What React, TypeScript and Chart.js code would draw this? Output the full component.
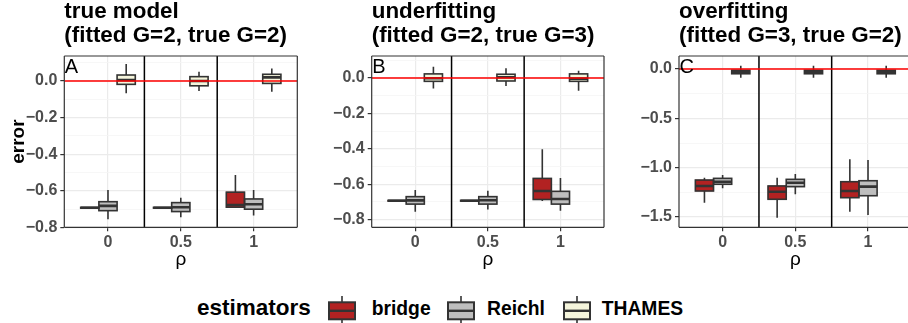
import React, { useEffect, useRef } from 'react';
import { Chart, registerables } from 'chart.js';

Chart.register(...registerables);

const FONT = '"Liberation Sans", Arial, Helvetica, sans-serif';

// ---------- data ----------
const rhoLabels = ['0', '0.5', '1'];
const rhoPositions = [1, 2, 3];
const estimators = ['bridge', 'Reichl', 'THAMES'];
const estimatorFills = ['#B22222', '#BEBEBE', '#F5F5DC'];
const dodgeOffsets = [-0.25, 0, 0.25];
const boxWidthUnits = 0.25;
const separatorPositions = [1.5, 2.5];

// five-number summaries per rho (0, 0.5, 1): [lower whisker, Q1, median, Q3, upper whisker]
const trueBridge = [
  [-0.697, -0.695, -0.693, -0.691, -0.689],
  [-0.697, -0.695, -0.693, -0.691, -0.689],
  [-0.695, -0.69, -0.678, -0.608, -0.514],
];
const trueReichl = [
  [-0.756, -0.709, -0.683, -0.66, -0.596],
  [-0.745, -0.714, -0.69, -0.665, -0.638],
  [-0.736, -0.701, -0.674, -0.645, -0.596],
];
const trueThames = [
  [-0.067, -0.018, 0.005, 0.033, 0.093],
  [-0.055, -0.026, 0.0, 0.024, 0.051],
  [-0.058, -0.013, 0.02, 0.037, 0.069],
];

const underBridge = [
  [-0.697, -0.695, -0.693, -0.691, -0.689],
  [-0.697, -0.695, -0.693, -0.691, -0.689],
  [-0.695, -0.686, -0.638, -0.567, -0.403],
];
const underReichl = [
  [-0.755, -0.712, -0.691, -0.67, -0.632],
  [-0.742, -0.712, -0.69, -0.67, -0.636],
  [-0.749, -0.712, -0.683, -0.64, -0.564],
];
const underThames = [
  [-0.06, -0.019, -0.002, 0.023, 0.064],
  [-0.045, -0.017, 0.004, 0.021, 0.055],
  [-0.072, -0.019, -0.004, 0.023, 0.041],
];

const overBridge = [
  [-1.354, -1.236, -1.185, -1.125, -1.101],
  [-1.506, -1.32, -1.243, -1.185, -1.101],
  [-1.446, -1.304, -1.236, -1.142, -0.915],
];
const overReichl = [
  [-1.209, -1.168, -1.142, -1.108, -1.074],
  [-1.27, -1.192, -1.152, -1.118, -1.064],
  [-1.479, -1.284, -1.192, -1.132, -0.922],
];
const overThames = [
  [-0.088, -0.048, -0.03, -0.012, 0.033],
  [-0.088, -0.048, -0.03, -0.012, 0.033],
  [-0.088, -0.048, -0.03, -0.012, 0.033],
];

const titleTrue = ['true model', '(fitted G=2, true G=2)'];
const titleUnder = ['underfitting', '(fitted G=2, true G=3)'];
const titleOver = ['overfitting', '(fitted G=3, true G=2)'];

const yMajorSmall = [0, -0.2, -0.4, -0.6, -0.8];
const yMinorSmall = [0.1, -0.1, -0.3, -0.5, -0.7];
const yMajorLarge = [0, -0.5, -1.0, -1.5];
const yMinorLarge = [-0.25, -0.75, -1.25];

const yLimitsTrue = [-0.8, 0.137];
const yLimitsUnder = [-0.843, 0.124];
const yLimitsOver = [-1.604, 0.132];
const xLimitsFull = [0.4, 3.6];
const xLimitsCropped = [0.4, 3.55];

// ---------- layout ----------
const CANVAS_H = 282;
const PLOT_TOP = 56;
const PLOT_BOTTOM = 227.3;
const OUTLINE = '#333333';
const TICK_COLOR = '#4D4D4D';

type Panel = {
  title: string[];
  letter: string;
  stats: number[][][];
  yLimits: number[];
  yMajor: number[];
  yMinor: number[];
  xLimits: number[];
  yTitle: string;
  left: number;
  width: number;
  plotLeft: number;
  plotRight: number;
  rightBorder: boolean;
};

const PANELS: Panel[] = [
  {
    title: titleTrue, letter: 'A', stats: [trueBridge, trueReichl, trueThames],
    yLimits: yLimitsTrue, yMajor: yMajorSmall, yMinor: yMinorSmall, xLimits: xLimitsFull,
    yTitle: 'error', left: 0, width: 300, plotLeft: 64.3, plotRight: 297.3, rightBorder: true,
  },
  {
    title: titleUnder, letter: 'B', stats: [underBridge, underReichl, underThames],
    yLimits: yLimitsUnder, yMajor: yMajorSmall, yMinor: yMinorSmall, xLimits: xLimitsFull,
    yTitle: '', left: 300, width: 306, plotLeft: 371.7, plotRight: 604, rightBorder: true,
  },
  {
    title: titleOver, letter: 'C', stats: [overBridge, overReichl, overThames],
    yLimits: yLimitsOver, yMajor: yMajorLarge, yMinor: yMinorLarge, xLimits: xLimitsCropped,
    yTitle: '', left: 606, width: 302, plotLeft: 679, plotRight: 908, rightBorder: false,
  },
];

const near = (a: number, b: number) => Math.abs(a - b) < 1e-9;
const fmtTick = (v: number, decimals: number) => {
  const s = Math.abs(v).toFixed(decimals);
  return v < -1e-9 ? '\u2212' + s : s;
};

function line(ctx: CanvasRenderingContext2D, x1: number, y1: number, x2: number, y2: number) {
  ctx.beginPath();
  ctx.moveTo(x1, y1);
  ctx.lineTo(x2, y2);
  ctx.stroke();
}

function makePlugin(p: Panel) {
  return {
    id: 'panelDeco' + p.letter,
    afterDatasetsDraw(chart: any) {
      const { ctx, chartArea: ca, scales } = chart;
      const xs = scales.x;
      const ys = scales.y;
      ctx.save();
      ctx.beginPath();
      ctx.rect(ca.left, ca.top, ca.right - ca.left, ca.bottom - ca.top);
      ctx.clip();
      chart.data.datasets.forEach((_ds: any, k: number) => {
        const meta = chart.getDatasetMeta(k);
        const stats = p.stats[k];
        meta.data.forEach((bar: any, j: number) => {
          const { x: cx, width } = bar.getProps(['x', 'width'], true);
          const s = stats[j];
          const yLo = ys.getPixelForValue(s[0]);
          const yQ1 = ys.getPixelForValue(s[1]);
          const yMed = ys.getPixelForValue(s[2]);
          const yQ3 = ys.getPixelForValue(s[3]);
          const yHi = ys.getPixelForValue(s[4]);
          ctx.strokeStyle = OUTLINE;
          ctx.lineWidth = 1.6;
          ctx.lineCap = 'butt';
          line(ctx, cx, yQ3, cx, yHi);
          line(ctx, cx, yQ1, cx, yLo);
          ctx.strokeRect(cx - width / 2, yQ3, width, yQ1 - yQ3);
          ctx.lineWidth = 2.6;
          line(ctx, cx - width / 2, yMed, cx + width / 2, yMed);
        });
      });
      // separators
      ctx.strokeStyle = '#000000';
      ctx.lineWidth = 1.5;
      separatorPositions.forEach((v) => {
        const px = xs.getPixelForValue(v);
        line(ctx, px, ca.top, px, ca.bottom);
      });
      // red reference line at 0
      ctx.strokeStyle = '#FF0000';
      ctx.lineWidth = 1.6;
      const y0 = ys.getPixelForValue(0);
      line(ctx, ca.left, y0, ca.right, y0);
      ctx.restore();

      // panel border
      ctx.save();
      ctx.strokeStyle = OUTLINE;
      ctx.lineWidth = 1.2;
      line(ctx, ca.left, ca.top, ca.right, ca.top);
      line(ctx, ca.left, ca.bottom, ca.right, ca.bottom);
      line(ctx, ca.left, ca.top, ca.left, ca.bottom);
      if (p.rightBorder) line(ctx, ca.right, ca.top, ca.right, ca.bottom);
      ctx.restore();
    },
    afterDraw(chart: any) {
      const { ctx, chartArea: ca, scales } = chart;
      ctx.save();
      ctx.fillStyle = '#000000';
      ctx.textAlign = 'left';
      ctx.textBaseline = 'alphabetic';
      // letter
      ctx.font = `20px ${FONT}`;
      ctx.fillText(p.letter, ca.left + 0.5, ca.top + 16.5);
      // titles
      ctx.font = `bold 22.4px ${FONT}`;
      ctx.fillText(p.title[0], ca.left, 17.5);
      ctx.fillText(p.title[1], ca.left, 41.5);
      // x axis title
      ctx.font = `19px ${FONT}`;
      ctx.textAlign = 'center';
      ctx.fillText('\u03C1', scales.x.getPixelForValue(2), 265);
      // y axis title
      if (p.yTitle) {
        ctx.font = `bold 19px ${FONT}`;
        ctx.translate(23.5, (ca.top + ca.bottom) / 2);
        ctx.rotate(-Math.PI / 2);
        ctx.fillText(p.yTitle, 0, 0);
      }
      ctx.restore();
    },
  };
}

function PanelChart({ p }: { p: Panel }) {
  const ref = useRef<HTMLCanvasElement>(null);
  useEffect(() => {
    if (!ref.current) return;
    const pxPerUnit = (p.plotRight - p.plotLeft) / (p.xLimits[1] - p.xLimits[0]);
    const allY = [...p.yMajor, ...p.yMinor].sort((a, b) => a - b);
    const isMajor = (v: number) => p.yMajor.some((m) => near(m, v));
    const decimals = p.yMajor.some((m) => !near(Math.round(m * 10) / 10, m)) ? 2 : 1;
    const chart = new Chart(ref.current, {
      type: 'bar',
      data: {
        datasets: estimators.map((name, k) => ({
          label: name,
          data: p.stats[k].map((s, j) => ({ x: rhoPositions[j] + dodgeOffsets[k], y: [s[1], s[3]] })),
          backgroundColor: estimatorFills[k],
          borderWidth: 0,
          borderSkipped: false,
          barThickness: boxWidthUnits * pxPerUnit,
          grouped: false,
        })),
      } as any,
      plugins: [makePlugin(p)],
      options: {
        animation: false,
        responsive: false,
        devicePixelRatio: 1,
        events: [],
        layout: {
          padding: { top: PLOT_TOP, left: 0, bottom: 0, right: p.width - (p.plotRight - p.left) },
        },
        plugins: { legend: { display: false }, tooltip: { enabled: false }, title: { display: false } },
        scales: {
          x: {
            type: 'linear',
            min: p.xLimits[0],
            max: p.xLimits[1],
            offset: false,
            bounds: 'data',
            afterBuildTicks: (s: any) => {
              s.ticks = rhoPositions.map((v) => ({ value: v }));
            },
            afterFit: (s: any) => {
              s.height = CANVAS_H - PLOT_BOTTOM;
            },
            ticks: {
              autoSkip: false,
              maxRotation: 0,
              minRotation: 0,
              padding: 2,
              color: TICK_COLOR,
              font: { family: FONT, size: 16, weight: 'bold' },
              callback: (v: any) => {
                const i = rhoPositions.findIndex((r) => near(r, Number(v)));
                return i >= 0 ? rhoLabels[i] : '';
              },
            },
            grid: {
              offset: false,
              color: '#EBEBEB',
              lineWidth: 1.2,
              tickColor: OUTLINE,
              tickLength: 4,
              tickWidth: 1.2,
            },
            border: { display: false },
          },
          y: {
            type: 'linear',
            min: p.yLimits[0],
            max: p.yLimits[1],
            bounds: 'data',
            afterBuildTicks: (s: any) => {
              s.ticks = allY.map((v) => ({ value: v }));
            },
            afterFit: (s: any) => {
              s.width = p.plotLeft - p.left;
            },
            ticks: {
              autoSkip: false,
              padding: 3,
              color: TICK_COLOR,
              font: { family: FONT, size: 16, weight: 'bold' },
              callback: (v: any) => (isMajor(Number(v)) ? fmtTick(Number(v), decimals) : ''),
            },
            grid: {
              color: (c: any) => (isMajor(c.tick?.value ?? 0) ? '#EBEBEB' : '#F5F5F5'),
              lineWidth: (c: any) => (isMajor(c.tick?.value ?? 0) ? 1.2 : 0.8),
              tickColor: (c: any) => (isMajor(c.tick?.value ?? 0) ? OUTLINE : 'rgba(0,0,0,0)'),
              tickLength: 4,
              tickWidth: 1.2,
            },
            border: { display: false },
          },
        },
      } as any,
    });
    return () => chart.destroy();
  }, [p]);
  return (
    <canvas
      ref={ref}
      width={p.width}
      height={CANVAS_H}
      style={{ position: 'absolute', left: p.left, top: 0, width: p.width, height: CANVAS_H }}
    />
  );
}

function LegendKey({ left, fill }: { left: number; fill: string }) {
  return (
    <svg
      width={28}
      height={27}
      style={{ position: 'absolute', left, top: 296 }}
      viewBox="0 0 28 27"
    >
      <line x1={14} y1={0} x2={14} y2={27} stroke={OUTLINE} strokeWidth={1.6} />
      <rect x={1} y={6.3} width={26} height={17} fill={fill} stroke={OUTLINE} strokeWidth={2} />
      <line x1={1} y1={14.8} x2={27} y2={14.8} stroke={OUTLINE} strokeWidth={2.4} />
    </svg>
  );
}

const legendKeyLefts = [328, 446.5, 562.5];
const legendLabelLefts = [371.7, 487, 601.7];

export default function App() {
  useEffect(() => {
    document.body.style.margin = '0';
  }, []);
  const labelSize = 19.3;
  const titleSize = 22.5;
  return (
    <div
      style={{
        position: 'absolute',
        left: 0,
        top: 0,
        width: 908,
        height: 323,
        overflow: 'hidden',
        background: '#FFFFFF',
        fontFamily: FONT,
      }}
    >
      {PANELS.map((p) => (
        <PanelChart key={p.letter} p={p} />
      ))}
      <span
        style={{
          position: 'absolute',
          left: 197,
          top: 316 - 0.8465 * titleSize,
          fontSize: titleSize,
          fontWeight: 'bold',
          lineHeight: 1,
          whiteSpace: 'nowrap',
          color: '#000',
        }}
      >
        estimators
      </span>
      {estimators.map((name, k) => (
        <React.Fragment key={name}>
          <LegendKey left={legendKeyLefts[k]} fill={estimatorFills[k]} />
          <span
            style={{
              position: 'absolute',
              left: legendLabelLefts[k],
              top: 315.5 - 0.8465 * labelSize,
              fontSize: labelSize,
              fontWeight: 'bold',
              lineHeight: 1,
              whiteSpace: 'nowrap',
              color: '#000',
            }}
          >
            {name}
          </span>
        </React.Fragment>
      ))}
    </div>
  );
}
